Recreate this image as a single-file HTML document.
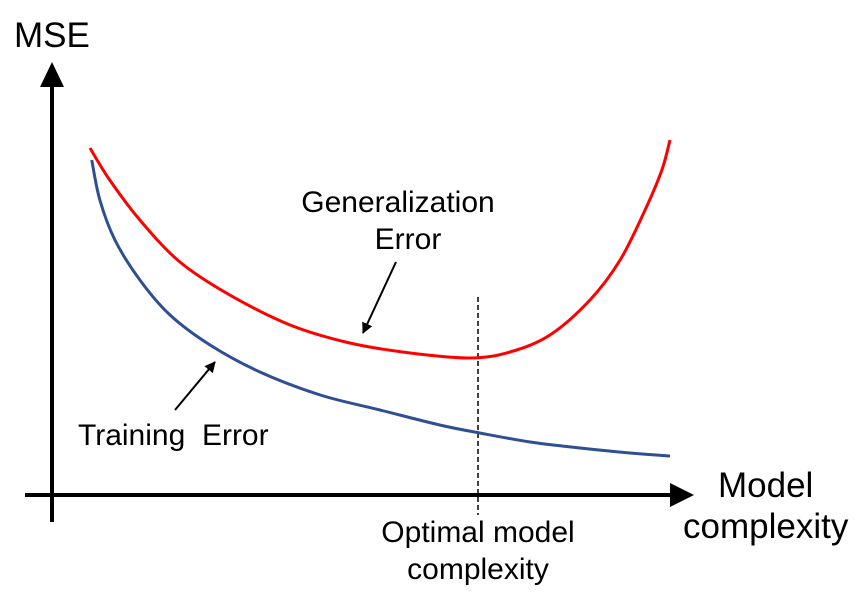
<!DOCTYPE html>
<html><head><meta charset="utf-8"><style>
html,body{margin:0;padding:0;background:#fff;}
svg{display:block;font-family:"Liberation Sans",Arial,sans-serif;}
</style></head><body>
<svg id="chart" width="865" height="600" viewBox="0 0 865 600">
<defs>
<marker id="ah" markerWidth="11" markerHeight="11" refX="10" refY="5.5" orient="auto" markerUnits="userSpaceOnUse"><path d="M0,0 L11,5.5 L0,11 z" fill="#000"/></marker>
</defs>
<line x1="52" y1="522" x2="52" y2="85" stroke="#000" stroke-width="4"/>
<path d="M40,87 L52,62 L64,87 z" fill="#000"/>
<line x1="25" y1="495" x2="672" y2="495" stroke="#000" stroke-width="4"/>
<path d="M670,483 L694,495 L670,507 z" fill="#000"/>
<text x="14" y="47" font-size="35">MSE</text>
<text x="718" y="497" font-size="35">Model</text>
<text x="683" y="538" font-size="35">complexity</text>
<line x1="478" y1="297" x2="478" y2="515" stroke="#000" stroke-width="1.5" stroke-dasharray="5,3"/>
<text x="478" y="542" font-size="30" text-anchor="middle">Optimal model</text>
<text x="478" y="579" font-size="30" text-anchor="middle">complexity</text>
<text x="398" y="212" font-size="30" text-anchor="middle">Generalization</text>
<text x="408" y="249" font-size="30" text-anchor="middle">Error</text>
<line x1="396" y1="262" x2="363" y2="333" stroke="#000" stroke-width="2" marker-end="url(#ah)"/>
<text x="78" y="445" font-size="30" xml:space="preserve">Training  Error</text>
<line x1="175" y1="410" x2="215" y2="362" stroke="#000" stroke-width="2" marker-end="url(#ah)"/>
<g id="series"></g>
</svg>
<script>
const genX=[0,3.4,8.6,15.5,24.1,34.5,44.8,55.2,65.5,72.4,79.3,86.2,91.4,95.7,98.6,100];
const genY=[86.75,78.75,68.75,58.25,50,42.5,38,35.5,34.25,35.75,40,48.75,58.75,71.25,81.25,88.75];
const trainX=[0.3,1.7,4.3,8.6,13.8,20.7,29.3,39.7,50,60.3,67.2,75.9,84.5,93.1,100];
const trainY=[83.75,73.75,63.75,53.75,45,37.5,30.75,25,21.25,17.5,15.5,13.25,11.75,10.5,9.75];
function sx(c){return 90+c*5.8;}
function sy(v){return 495-v*4;}
function pathFor(xs,ys){
  const p=xs.map((x,i)=>[sx(x),sy(ys[i])]);
  let d="M"+p[0][0]+","+p[0][1];
  for(let i=0;i<p.length-1;i++){
    const p0=p[i-1]||p[i],p1=p[i],p2=p[i+1],p3=p[i+2]||p2;
    const c1=[p1[0]+(p2[0]-p0[0])/6,p1[1]+(p2[1]-p0[1])/6];
    const c2=[p2[0]-(p3[0]-p1[0])/6,p2[1]-(p3[1]-p1[1])/6];
    d+=" C"+c1[0]+","+c1[1]+" "+c2[0]+","+c2[1]+" "+p2[0]+","+p2[1];
  }
  return d;
}
const g=document.getElementById('series');
const ns="http://www.w3.org/2000/svg";
const r=document.createElementNS(ns,'path');
r.setAttribute('d',pathFor(genX,genY));
r.setAttribute('fill','none');r.setAttribute('stroke','#ff0000');r.setAttribute('stroke-width','3');


g.appendChild(r);
const b=document.createElementNS(ns,'path');
b.setAttribute('d',pathFor(trainX,trainY));
b.setAttribute('fill','none');b.setAttribute('stroke','#2f4f93');b.setAttribute('stroke-width','3');


g.appendChild(b);
</script>
</body></html>
